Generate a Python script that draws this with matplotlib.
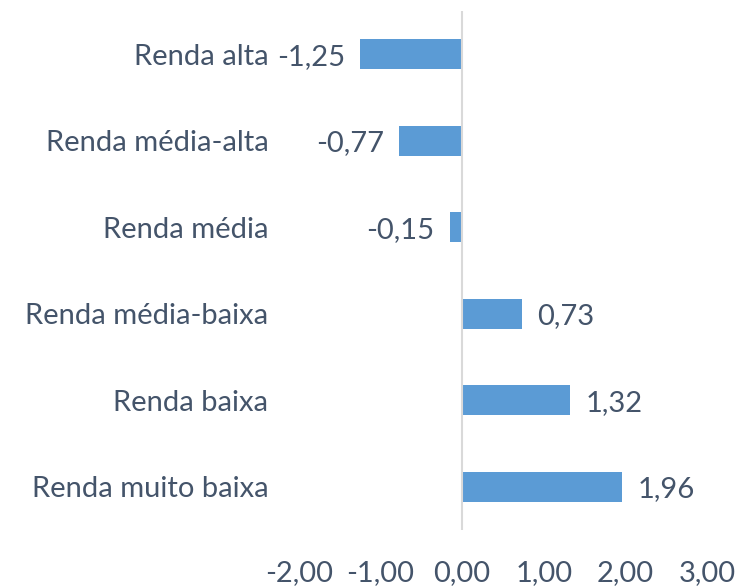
import matplotlib.pyplot as plt

categories = ['Renda alta', 'Renda média-alta', 'Renda média',
              'Renda média-baixa', 'Renda baixa', 'Renda muito baixa']
values = [-1.25, -0.77, -0.15, 0.73, 1.32, 1.96]
xticks = [-2, -1, 0, 1, 2, 3]

bar_color = '#5B9BD5'
text_color = '#44546A'
fs = 21

plt.rcParams['font.family'] = ['Lato', 'DejaVu Sans']

fig = plt.figure(figsize=(7.43, 5.86), dpi=100)
ax = fig.add_axes([0.4024, 0.0956, 0.5491, 0.8857])

pos = list(range(len(categories)))
ax.barh(pos, values, height=0.35, color=bar_color, zorder=2)
ax.set_ylim(len(categories) - 0.5, -0.5)
ax.set_xlim(-2, 3)

# eixo vertical no zero
ax.axvline(0, color='#D9D9D9', linewidth=1.5, zorder=3)

# valores ao lado das barras
for p, v in zip(pos, values):
    lbl = f'{v:.2f}'.replace('.', ',')
    if v < 0:
        ax.annotate(lbl, (v, p), xytext=(-11, -2), textcoords='offset points',
                    ha='right', va='center', fontsize=fs, color=text_color)
    else:
        ax.annotate(lbl, (v, p), xytext=(11, -2), textcoords='offset points',
                    ha='left', va='center', fontsize=fs, color=text_color)

ax.set_yticks(pos)
ax.set_yticklabels(categories)
ax.set_xticks(xticks)
ax.set_xticklabels([f'{t:.2f}'.replace('.', ',') for t in xticks])
ax.tick_params(axis='y', length=0, pad=22, labelsize=fs, labelcolor=text_color)
ax.tick_params(axis='x', length=0, pad=22, labelsize=fs, labelcolor=text_color)

for s in ax.spines.values():
    s.set_visible(False)

fig.savefig('out.png', dpi=100)
